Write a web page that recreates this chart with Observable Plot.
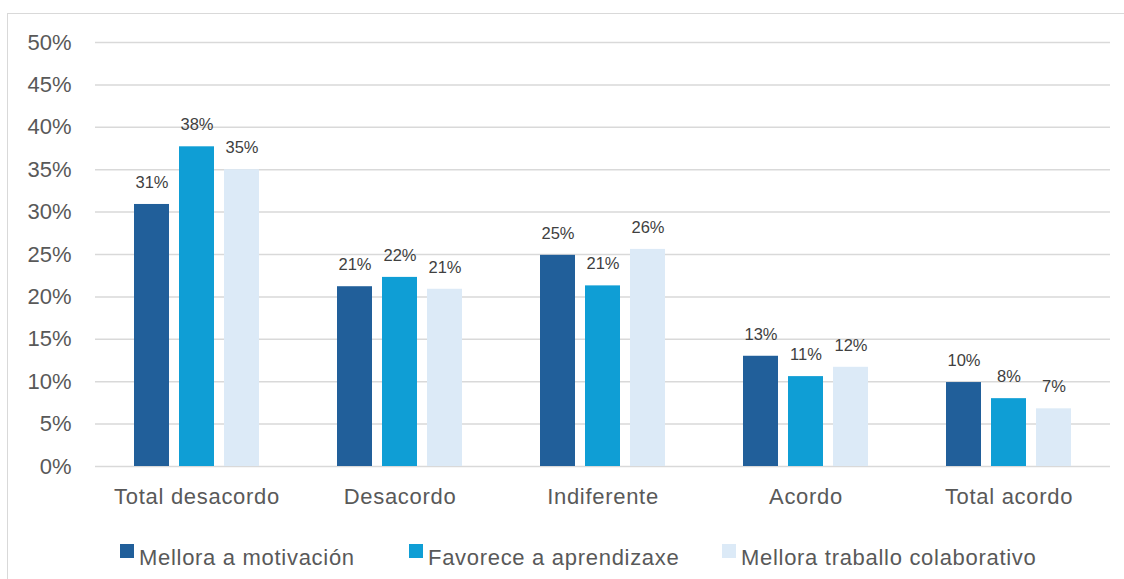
<!DOCTYPE html>
<html>
<head>
<meta charset="utf-8">
<script src="https://cdn.jsdelivr.net/npm/d3@7"></script>
<script src="https://cdn.jsdelivr.net/npm/@observablehq/plot@0.6"></script>
<style>
  html, body { margin: 0; padding: 0; background: #fff; overflow: hidden; width: 1124px; height: 579px; }
  #frame { position: absolute; left: 7px; top: 13px; width: 1300px; height: 800px; border: 1.5px solid #d9d9d9; box-sizing: border-box; }
  #chart { position: absolute; left: 0; top: 0; }
  #legend { position: absolute; left: 0; top: 0; font-family: "Liberation Sans", Arial, sans-serif; font-size: 22px; color: #595959; letter-spacing: 0.7px; }
  .item { position: absolute; top: 545px; height: 26px; line-height: 26px; white-space: nowrap; padding-left: 19px; }
  .sw { position: absolute; left: 0; top: -1px; width: 14px; height: 14px; }
  .fxaxis text { letter-spacing: 0.7px; }
</style>
</head>
<body>
<div id="frame"></div>
<div id="chart"></div>
<div id="legend"></div>
<script>
const categories = ["Total desacordo", "Desacordo", "Indiferente", "Acordo", "Total acordo"];
const series = ["Mellora a motivación", "Favorece a aprendizaxe", "Mellora traballo colaborativo"];
const motivacion   = [30.9, 21.2, 24.9, 13.0, 9.9];
const aprendizaxe  = [37.7, 22.3, 21.3, 10.6, 8.0];
const colaborativo = [35.0, 20.9, 25.6, 11.7, 6.8];
const yTicks = [0, 5, 10, 15, 20, 25, 30, 35, 40, 45, 50];
const colors = ["#215f9a", "#0f9ed5", "#dceaf7"];
const legendLeft = [120, 409, 722];

const valuesBySeries = [motivacion, aprendizaxe, colaborativo];
const data = [];
categories.forEach((c, i) => {
  series.forEach((s, j) => {
    data.push({category: c, series: s, value: valuesBySeries[j][i]});
  });
});

const font = '"Liberation Sans", Arial, sans-serif';

const chart = Plot.plot({
  width: 1124,
  height: 579,
  marginLeft: 93,
  marginRight: 12,
  marginTop: 42,
  marginBottom: 113,
  style: {fontFamily: font, color: "#595959", background: "transparent"},
  fx: {domain: categories, padding: 0, label: null},
  x: {domain: series, type: "band", paddingInner: 0.2222, paddingOuter: 0.8278, axis: null},
  y: {domain: [0, 50], label: null},
  color: {domain: series, range: colors},
  marks: [
    Plot.gridY(yTicks, {stroke: "#d9d9d9", strokeOpacity: 1, strokeWidth: 1.5}),
    Plot.axisY(yTicks, {tickSize: 0, tickPadding: 24, fontSize: 22, fill: "#595959", tickFormat: d => d + "%", label: null}),
    Plot.axisFx({anchor: "bottom", tickSize: 0, tickPadding: 22, fontSize: 22, fill: "#595959", label: null, className: "fxaxis"}),
    Plot.barY(data, {fx: "category", x: "series", y: "value", fill: "series"}),
    Plot.text(data, {fx: "category", x: "series", y: "value", text: d => Math.round(d.value) + "%", dy: -22, fontSize: 16.5, fill: "#404040"})
  ]
});
document.getElementById("chart").appendChild(chart);

const legend = document.getElementById("legend");
series.forEach((s, j) => {
  const item = document.createElement("div");
  item.className = "item";
  item.style.left = legendLeft[j] + "px";
  const sw = document.createElement("span");
  sw.className = "sw";
  sw.style.background = chart.scale("color").apply(s);
  item.appendChild(sw);
  item.appendChild(document.createTextNode(s));
  legend.appendChild(item);
});
</script>
</body>
</html>
